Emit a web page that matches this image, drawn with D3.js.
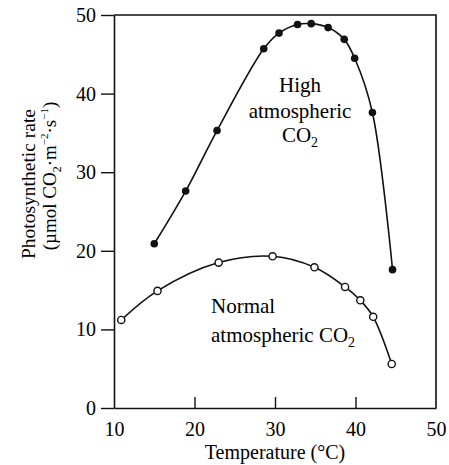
<!DOCTYPE html>
<html><head><meta charset="utf-8">
<script src="https://cdn.jsdelivr.net/npm/d3@7/dist/d3.min.js"></script>
<style>
body{margin:0;background:#fff;}
svg{display:block;}
text{font-family:"Liberation Serif","Times New Roman",serif;fill:#000;}
</style></head>
<body>
<svg id="chart" width="449" height="465"></svg>
<script>
// Data
const highTemp = [15, 18.9, 22.8, 28.6, 30.5, 32.8, 34.5, 36.6, 38.6, 39.9, 42.1, 44.6];
const highRate = [20.9, 27.6, 35.3, 45.7, 47.7, 48.8, 48.9, 48.4, 46.9, 44.5, 37.6, 17.6];
const normalTemp = [10.9, 15.4, 23.0, 29.7, 34.9, 38.7, 40.6, 42.2, 44.5];
const normalRate = [11.2, 14.9, 18.5, 19.3, 17.9, 15.4, 13.7, 11.6, 5.6];
const xTicks = [10, 20, 30, 40, 50];
const yTicks = [0, 10, 20, 30, 40, 50];

const svg = d3.select("#chart");
const x = d3.scaleLinear().domain([10, 50]).range([114, 436]);
const y = d3.scaleLinear().domain([0, 50]).range([408, 15]);

// frame (top & right)
svg.append("path")
  .attr("d", `M${x(10)},${y(50)}H${x(50)}V${y(0)}`)
  .attr("fill", "none").attr("stroke", "#111").attr("stroke-width", 1.6);

// y axis: outward ticks
const yAxis = svg.append("g").attr("transform", `translate(${x(10)},0)`)
  .call(d3.axisLeft(y).tickValues(yTicks).tickSize(13).tickPadding(5).tickSizeOuter(0));
// x axis: inward ticks
const xAxis = svg.append("g").attr("transform", `translate(0,${y(0)})`)
  .call(d3.axisBottom(x).tickValues(xTicks).tickSize(-11).tickPadding(14).tickSizeOuter(0));
[yAxis, xAxis].forEach(g => {
  g.select(".domain").attr("stroke", "#111").attr("stroke-width", 1.6);
  g.selectAll(".tick line").attr("stroke", "#111").attr("stroke-width", 1.4);
  g.selectAll(".tick text").attr("font-size", 20).attr("fill", "#000")
    .attr("font-family", "Liberation Serif, serif");
});
xAxis.selectAll(".tick text").attr("dy", "0.71em");
xAxis.selectAll(".tick").filter(d => d === 10 || d === 50).select("line").remove();

// axis titles
svg.append("text").attr("x", x(30)).attr("y", 459)
  .attr("text-anchor", "middle").attr("font-size", 20).text("Temperature (°C)");

const yt = svg.append("g");
yt.append("text").attr("transform", "translate(35,184) rotate(-90)")
  .attr("text-anchor", "middle").attr("font-size", 19.5).text("Photosynthetic rate");
const t2 = yt.append("text").attr("transform", "translate(56,176) rotate(-90)")
  .attr("text-anchor", "middle").attr("font-size", 19);
t2.append("tspan").text("(µmol CO");
t2.append("tspan").attr("font-size", 12).attr("dy", 5).text("2");
t2.append("tspan").attr("dy", -5).text("·m");
t2.append("tspan").attr("font-size", 11).attr("dy", -8).text("−2");
t2.append("tspan").attr("dy", 8).text("·s");
t2.append("tspan").attr("font-size", 11).attr("dy", -8).text("−1");
t2.append("tspan").attr("dy", 8).text(")");

// curves
const line = d3.line().x(d => x(d[0])).y(d => y(d[1])).curve(d3.curveCatmullRom.alpha(0.5));
const highData = highTemp.map((t, i) => [t, highRate[i]]);
const normalData = normalTemp.map((t, i) => [t, normalRate[i]]);

svg.append("path").datum(highData).attr("d", line)
  .attr("fill", "none").attr("stroke", "#111").attr("stroke-width", 1.6);
svg.append("path").datum(normalData).attr("d", line)
  .attr("fill", "none").attr("stroke", "#111").attr("stroke-width", 1.6);

svg.selectAll("circle.high").data(highData).enter().append("circle")
  .attr("class", "high").attr("cx", d => x(d[0])).attr("cy", d => y(d[1]))
  .attr("r", 3.8).attr("fill", "#111");
svg.selectAll("circle.normal").data(normalData).enter().append("circle")
  .attr("class", "normal").attr("cx", d => x(d[0])).attr("cy", d => y(d[1]))
  .attr("r", 3.6).attr("fill", "#fff").attr("stroke", "#111").attr("stroke-width", 1.4);

// annotations
const a1 = svg.append("text").attr("text-anchor", "middle").attr("font-size", 21);
a1.append("tspan").attr("x", 300).attr("y", 92).text("High");
a1.append("tspan").attr("x", 300).attr("y", 118).text("atmospheric");
a1.append("tspan").attr("x", 300).attr("y", 142).text("CO");
a1.append("tspan").attr("font-size", 14).attr("dy", 5).text("2");

const a2 = svg.append("text").attr("font-size", 21);
a2.append("tspan").attr("x", 211).attr("y", 313).text("Normal");
a2.append("tspan").attr("x", 211).attr("y", 342).text("atmospheric CO");
a2.append("tspan").attr("font-size", 14).attr("dy", 5).text("2");
</script>
</body></html>
